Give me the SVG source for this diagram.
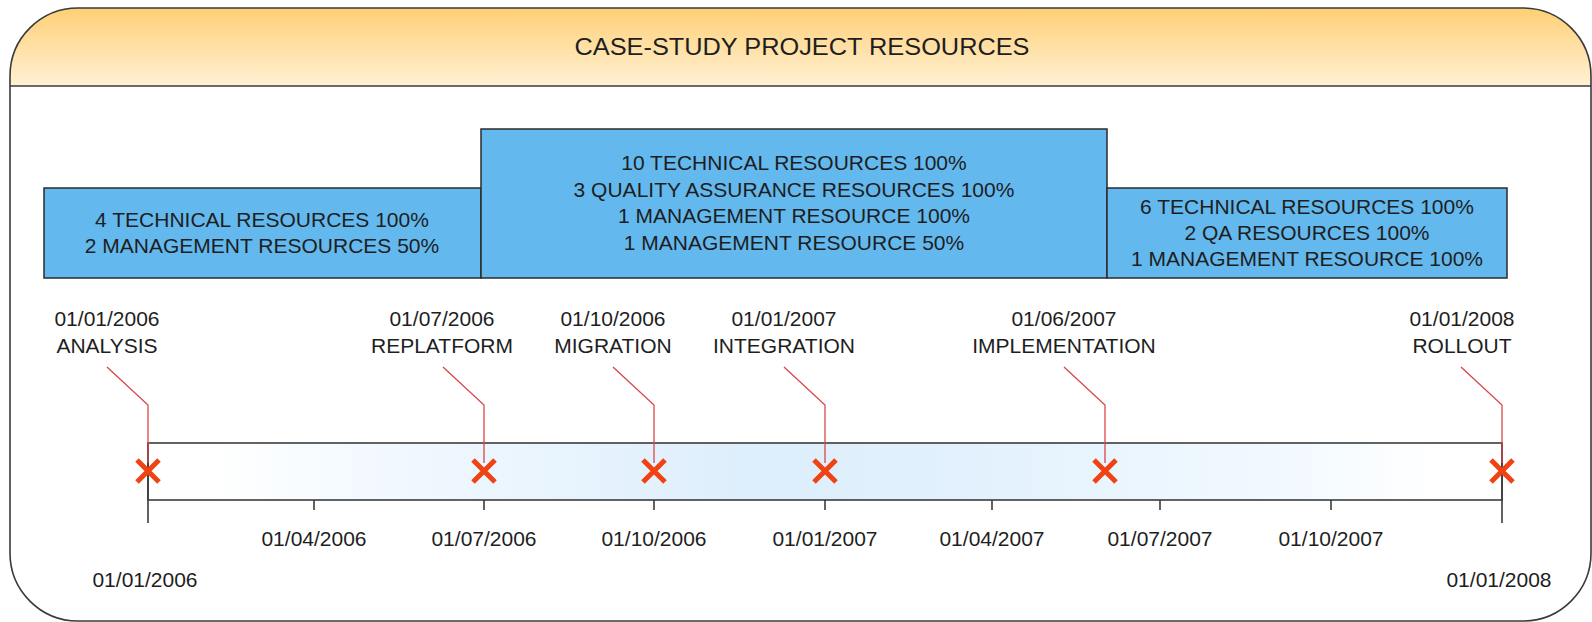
<svg xmlns="http://www.w3.org/2000/svg" width="1592" height="622" viewBox="0 0 1592 622">
<defs>
<linearGradient id="hdr" x1="0" y1="0" x2="0" y2="1">
<stop offset="0" stop-color="#FFCF75"/>
<stop offset="1" stop-color="#FFF1D5"/>
</linearGradient>
<linearGradient id="bar" x1="0" y1="0" x2="1" y2="0">
<stop offset="0" stop-color="#FFFFFF"/>
<stop offset="0.05" stop-color="#FFFFFF"/>
<stop offset="0.15" stop-color="#F4FAFF"/>
<stop offset="0.45" stop-color="#DDEEFC"/>
<stop offset="0.6" stop-color="#E2F1FD"/>
<stop offset="0.85" stop-color="#F3FAFF"/>
<stop offset="0.95" stop-color="#FFFFFF"/>
<stop offset="1" stop-color="#FFFFFF"/>
</linearGradient>
</defs>
<style>
text{font-family:"Liberation Sans",Arial,sans-serif;font-size:21px;fill:#1E1E1E;text-anchor:middle}
.title{font-size:24px}
.box{fill:#63B8EE;stroke:#2B2B2B;stroke-width:1.5}
.frame{fill:none;stroke:#3A3A3A;stroke-width:1.6}
.axis{stroke:#3C3C3C;stroke-width:1.6;fill:none}
.lead{stroke:#D9474A;stroke-width:1.3;fill:none}
.mk{stroke:#F04212;stroke-width:5;fill:none}
</style>

<g id="container">
<rect x="10" y="8" width="1581" height="613" rx="68" ry="68" fill="#FFFFFF"/>
<path d="M10,86 V76 A68,68 0 0 1 78,8 H1523 A68,68 0 0 1 1591,76 V86 Z" fill="url(#hdr)"/>
<line x1="10" y1="86" x2="1591" y2="86" class="frame"/>
<rect x="10" y="8" width="1581" height="613" rx="68" ry="68" class="frame"/>
<text class="title" x="802" y="55" textLength="455" lengthAdjust="spacingAndGlyphs">CASE-STUDY PROJECT RESOURCES</text>
</g>

<g id="phase1">
<rect class="box" x="44" y="188" width="437" height="90"/>
<text x="262" y="227">4 TECHNICAL RESOURCES 100%</text>
<text x="262" y="253">2 MANAGEMENT RESOURCES 50%</text>
</g>
<g id="phase2">
<rect class="box" x="481" y="129" width="626" height="149"/>
<text x="794" y="170">10 TECHNICAL RESOURCES 100%</text>
<text x="794" y="197">3 QUALITY ASSURANCE RESOURCES 100%</text>
<text x="794" y="223">1 MANAGEMENT RESOURCE 100%</text>
<text x="794" y="250">1 MANAGEMENT RESOURCE 50%</text>
</g>
<g id="phase3">
<rect class="box" x="1107" y="188" width="400" height="90"/>
<text x="1307" y="214">6 TECHNICAL RESOURCES 100%</text>
<text x="1307" y="240">2 QA RESOURCES 100%</text>
<text x="1307" y="266">1 MANAGEMENT RESOURCE 100%</text>
</g>

<g id="timeline">
<rect x="148" y="443" width="1354" height="57" fill="url(#bar)" stroke="#3C3C3C" stroke-width="1.6"/>
<path class="axis" d="M148,443 V523 M1502,443 V523 M314,500 V510 M484,500 V510 M654,500 V510 M825,500 V510 M992,500 V510 M1160,500 V510 M1331,500 V510"/>
<text x="314" y="546">01/04/2006</text>
<text x="484" y="546">01/07/2006</text>
<text x="654" y="546">01/10/2006</text>
<text x="825" y="546">01/01/2007</text>
<text x="992" y="546">01/04/2007</text>
<text x="1160" y="546">01/07/2007</text>
<text x="1331" y="546">01/10/2007</text>
<text x="145" y="587">01/01/2006</text>
<text x="1499" y="587">01/01/2008</text>
</g>

<g id="connectors">
<polyline class="lead" points="107,367 148,405 148,463"/>
<polyline class="lead" points="443,367 484,405 484,463"/>
<polyline class="lead" points="613,367 654,405 654,463"/>
<polyline class="lead" points="784,367 825,405 825,463"/>
<polyline class="lead" points="1064,367 1105,405 1105,463"/>
<polyline class="lead" points="1461,367 1502,405 1502,463"/>
</g>

<g id="m-analysis">
<text x="107" y="326">01/01/2006</text>
<text x="107" y="353">ANALYSIS</text>
<path class="mk" d="M137,460 L159,482 M159,460 L137,482"/>
</g>
<g id="m-replatform">
<text x="442" y="326">01/07/2006</text>
<text x="442" y="353">REPLATFORM</text>
<path class="mk" d="M473,460 L495,482 M495,460 L473,482"/>
</g>
<g id="m-migration">
<text x="613" y="326">01/10/2006</text>
<text x="613" y="353">MIGRATION</text>
<path class="mk" d="M643,460 L665,482 M665,460 L643,482"/>
</g>
<g id="m-integration">
<text x="784" y="326">01/01/2007</text>
<text x="784" y="353">INTEGRATION</text>
<path class="mk" d="M814,460 L836,482 M836,460 L814,482"/>
</g>
<g id="m-implementation">
<text x="1064" y="326">01/06/2007</text>
<text x="1064" y="353">IMPLEMENTATION</text>
<path class="mk" d="M1094,460 L1116,482 M1116,460 L1094,482"/>
</g>
<g id="m-rollout">
<text x="1462" y="326">01/01/2008</text>
<text x="1462" y="353">ROLLOUT</text>
<path class="mk" d="M1491,460 L1513,482 M1513,460 L1491,482"/>
</g>
</svg>
